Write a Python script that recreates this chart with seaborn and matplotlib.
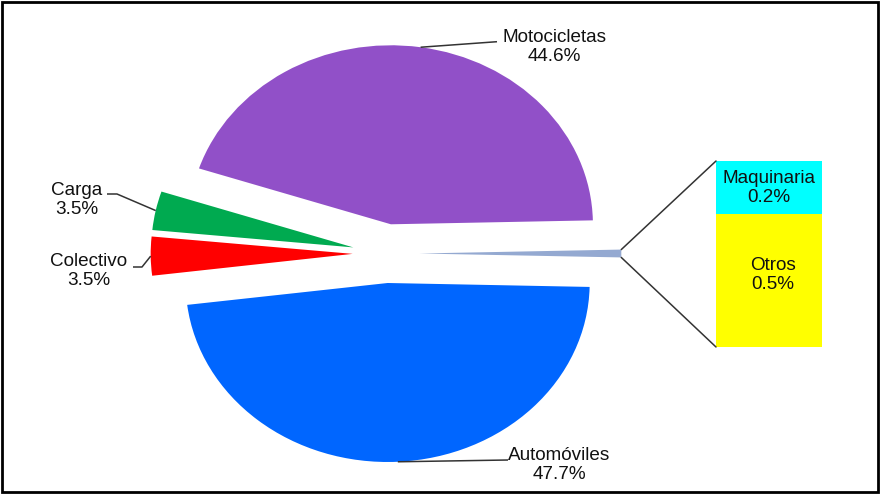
import numpy as np
import matplotlib
matplotlib.use("Agg")
import matplotlib.pyplot as plt
import seaborn as sns

# --- data -----------------------------------------------------------------
categories = ["Motocicletas", "Carga", "Colectivo", "Automóviles"]
shares = [44.6, 3.5, 3.5, 47.7]
detail_categories = ["Maquinaria", "Otros"]
detail_shares = [0.2, 0.5]

pie_colors = ["#9150C8", "#00AA50", "#FF0000", "#0066FF", "#94A9D1"]
maq_color = "#00FFFF"
otros_color = "#FFFF00"

# --- style ----------------------------------------------------------------
sns.set_theme(style="white")
plt.rcParams["font.family"] = ["Liberation Sans", "DejaVu Sans"]
FS = 13.6
LS = 1.15
TXT = "#111111"
LINE = "#333333"

W, H = 880, 494
fig = plt.figure(figsize=(W / 100, H / 100), dpi=100)
fig.patch.set_facecolor("white")

# --- pie (slightly elliptical: different px scale in x and y) -------------
cx, cy = 386, 253.5          # pie centre in pixels (from top-left)
rx, ry = 202, 179            # pixels per unit radius
xl, yl = 1.9, 1.3
ax_pie = fig.add_axes([(cx - xl * rx) / W, (H - cy - yl * ry) / H,
                       2 * xl * rx / W, 2 * yl * ry / H])

other_total = sum(detail_shares)
values = shares + [other_total]
total = sum(values)
start = 360 * other_total / total / 2

wedges, _ = ax_pie.pie(values, colors=pie_colors, explode=[0.165] * len(values),
                       startangle=start, counterclock=True,
                       wedgeprops=dict(linewidth=0))
ax_pie.set_aspect("auto")
ax_pie.set_xlim(-xl, xl)
ax_pie.set_ylim(-yl, yl)
ax_pie.axis("off")

# --- breakdown bar --------------------------------------------------------
bx0, bx1, by0, by1 = 716, 822, 161, 347
ax_bar = fig.add_axes([bx0 / W, (H - by1) / H, (bx1 - bx0) / W, (by1 - by0) / H])
sns.barplot(x=[0], y=[other_total], color=maq_color, saturation=1, width=1,
            linewidth=0, ax=ax_bar)
sns.barplot(x=[0], y=[detail_shares[1]], color=otros_color, saturation=1, width=1,
            linewidth=0, ax=ax_bar)
ax_bar.set_xlim(-0.5, 0.5)
ax_bar.set_ylim(0, other_total)
ax_bar.axis("off")
ax_bar.text(0, detail_shares[1] + detail_shares[0] / 2,
            f"{detail_categories[0]}\n{detail_shares[0]:.1f}%",
            ha="center", va="center", fontsize=FS, color=TXT, linespacing=LS)
ax_bar.text(0.04, detail_shares[1] / 2 + 0.02,
            f"{detail_categories[1]}\n{detail_shares[1]:.1f}%",
            ha="center", va="center", fontsize=FS, color=TXT, linespacing=LS)

# --- overlay in pixel coordinates ----------------------------------------
ax_ov = fig.add_axes([0, 0, 1, 1])
ax_ov.set_xlim(0, W)
ax_ov.set_ylim(H, 0)
ax_ov.axis("off")


def pie_to_px(pt):
    return ax_ov.transData.inverted().transform(ax_pie.transData.transform(pt))


def bar_to_px(pt):
    return ax_ov.transData.inverted().transform(ax_bar.transData.transform(pt))


def arc_point(w, ang):
    t = np.deg2rad(ang)
    return (w.center[0] + w.r * np.cos(t), w.center[1] + w.r * np.sin(t))


# labels with leader lines
label_pos = [(554, 47), (77, 200), (89, 271), (559, 465)]
elbows = [[(497, 41.7)], [(117, 194), (107, 194)],
          [(142, 267), (133, 267)], [(508, 460)]]
for w, name, val, pos, elb in zip(wedges, categories, shares, label_pos, elbows):
    start_pt = pie_to_px(arc_point(w, (w.theta1 + w.theta2) / 2))
    pts = np.array([start_pt] + elb)
    ax_ov.plot(pts[:, 0], pts[:, 1], color=LINE, lw=1.1, solid_capstyle="butt")
    ax_ov.text(pos[0], pos[1], f"{name}\n{val:.1f}%", ha="center", va="center",
               fontsize=FS, color=TXT, linespacing=LS)

# connectors from the small wedge to the breakdown bar
ow = wedges[-1]
top_end = pie_to_px(arc_point(ow, ow.theta2))
bot_end = pie_to_px(arc_point(ow, ow.theta1))
bar_top = bar_to_px((-0.5, other_total))
bar_bot = bar_to_px((-0.5, 0))
for a, b in [(top_end, bar_top), (bot_end, bar_bot)]:
    ax_ov.plot([a[0], b[0]], [a[1], b[1]], color=LINE, lw=1.1)

# outer frame
ax_ov.add_patch(plt.Rectangle((2, 2), W - 4, H - 4, fill=False,
                              edgecolor="black", lw=2.0))

fig.savefig("out.png", dpi=100, facecolor="white")
